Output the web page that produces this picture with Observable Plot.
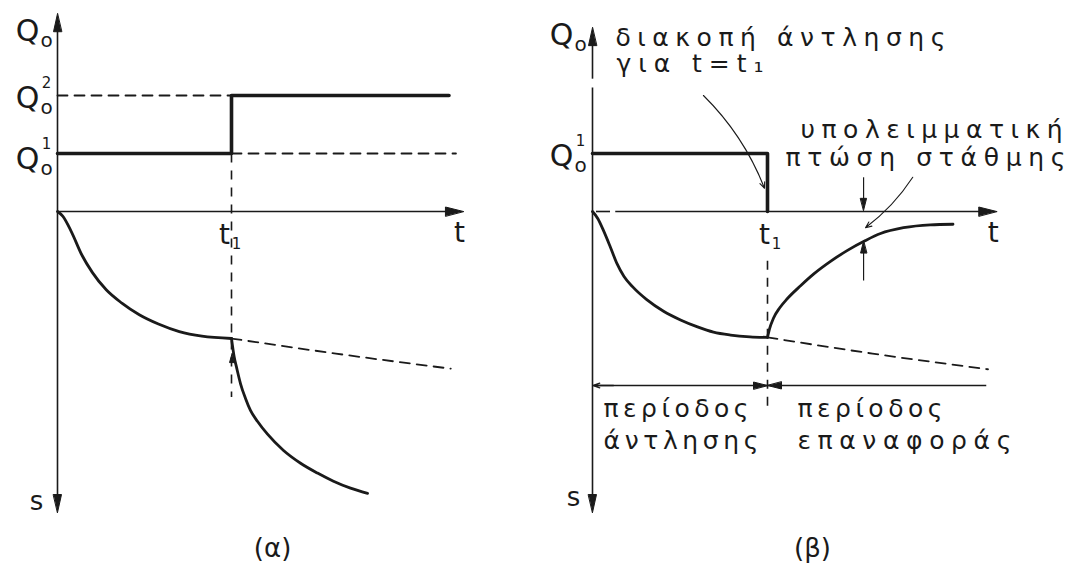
<!DOCTYPE html>
<html>
<head>
<meta charset="utf-8">
<script src="https://cdn.jsdelivr.net/npm/d3@7"></script>
<script src="https://cdn.jsdelivr.net/npm/@observablehq/plot@0.6"></script>
<style>
  html, body { margin: 0; padding: 0; background: #fff; }
  #figure { position: relative; width: 1067px; height: 564px; overflow: hidden; }
  #figure svg { position: absolute; top: 0; }
</style>
</head>
<body>
<div id="figure"></div>
<script>
// Pumping test sketches. Time is in units of t1, the pumping rate in units of Q1,
// the drawdown s is plotted downward from the time axis in the same vertical units.
const t1 = 1;
const Q1 = 1, Q2 = 2;

// (α) pumping rate raised from Q1 to Q2 at t1
const qStepA_t = [0, 1, 1, 2.25];
const qStepA_q = [1, 1, 2, 2];
const pumpA_t = [0, 0.03, 0.08, 0.14, 0.2, 0.28, 0.37, 0.47, 0.58, 0.7, 0.83, 1.0];
const pumpA_s = [0, 0.08, 0.35, 0.75, 1.05, 1.35, 1.58, 1.78, 1.94, 2.07, 2.15, 2.19];
const extA_t = [1, 1.6, 2.26];
const extA_s = [2.19, 2.45, 2.71];
const stepA_t = [1.0, 1.005, 1.015, 1.03, 1.052, 1.08, 1.109, 1.15, 1.207, 1.299, 1.397, 1.494, 1.586, 1.684, 1.782];
const stepA_s = [2.19, 2.30, 2.50, 2.70, 2.97, 3.22, 3.43, 3.62, 3.84, 4.12, 4.34, 4.51, 4.65, 4.77, 4.86];

// (β) pumping stopped at t1, then recovery
const qStepB_t = [0, 1, 1];
const qStepB_q = [1, 1, 0];
const pumpB_t = [0, 0.03, 0.063, 0.103, 0.14, 0.18, 0.23, 0.31, 0.406, 0.503, 0.6, 0.691, 0.789, 0.9, 1.0];
const pumpB_s = [0, 0.12, 0.33, 0.62, 0.90, 1.12, 1.30, 1.52, 1.72, 1.87, 1.99, 2.08, 2.13, 2.16, 2.17];
const extB_t = [1, 1.6, 2.26];
const extB_s = [2.17, 2.45, 2.72];
const recB_t = [1.0, 1.012, 1.034, 1.07, 1.114, 1.189, 1.263, 1.36, 1.457, 1.56, 1.646, 1.777, 1.93, 2.06];
const recB_s = [2.17, 2.02, 1.84, 1.66, 1.50, 1.28, 1.08, 0.86, 0.67, 0.50, 0.38, 0.28, 0.23, 0.22];
const residualT = 1.549;   // time at which the residual drawdown is marked
const residualS = 0.51;    // residual drawdown on the recovery curve there

// texts
const panelNames = ["(α)", "(β)"];
const noteStop = ["διακοπή άντλησης", "για t=t₁"];
const noteResidual = ["υπολειμματική", "πτώση στάθμης"];
const periodPump = ["περίοδος", "άντλησης"];
const periodRecovery = ["περίοδος", "επαναφοράς"];

// drawn widths of the lettered notes (px)
const noteWidths = new Map([
  ["διακοπή άντλησης", 330], ["για t=t₁", 147],
  ["υπολειμματική", 262], ["πτώση στάθμης", 280],
  ["περίοδος", 145], ["άντλησης", 155], ["επαναφοράς", 214]
]);

const zip = (T, V) => T.map((t, i) => ({t, v: V[i]}));
const down = (T, S) => T.map((t, i) => ({t, v: -S[i]}));

const INK = "#1a1a1a";
const FONT = "DejaVu Sans, sans-serif";
const DASH = "10,7";

// filled triangular arrowhead, tip at the anchor point
const solidHead = {
  draw(context, l, r) {
    context.moveTo(0, -l);
    context.lineTo(-r, 0);
    context.lineTo(r, 0);
    context.closePath();
  }
};
function head(x, y, rotate, length = 18, r = 4.5) {
  return Plot.vector([0], {
    x: [x], y: [y], rotate, length, r, anchor: "end", shape: solidHead,
    fill: INK, stroke: INK, strokeWidth: 1
  });
}
function seg(x1, y1, x2, y2, opts = {}) {
  return Plot.link([0], {x1: [x1], y1: [y1], x2: [x2], y2: [y2], stroke: INK, strokeWidth: 1.6, ...opts});
}
function bentArrow(x1, y1, x2, y2, bend) {
  return Plot.arrow([0], {x1: [x1], y1: [y1], x2: [x2], y2: [y2], bend, stroke: INK,
    strokeWidth: 1.1, headLength: 9, headAngle: 45});
}
function curveLine(T, S, opts = {}) {
  return Plot.line(down(T, S), {x: "t", y: "v", curve: "monotone-x", stroke: INK, strokeWidth: 2.8, ...opts});
}
function label(str, x, y, opts = {}) {
  return Plot.text([str], {x: [x], y: [y], text: d => d, fill: INK, fontFamily: FONT, ...opts});
}
function note(str, x, y) {
  return label(str, x, y, {fontSize: 25, textAnchor: "start", lineAnchor: "bottom"});
}
// Q with subscript o and optional superscript index
function qLabel(y, sup, dx, dyQ) {
  const marks = [
    label("Q", 0, y, {dx, dy: dyQ, fontSize: 30, textAnchor: "middle", lineAnchor: "middle"}),
    label("o", 0, y, {dx: dx + 19, dy: dyQ + 9, fontSize: 20, textAnchor: "middle", lineAnchor: "middle"})
  ];
  if (sup) marks.push(label(sup, 0, y, {dx: dx + 19, dy: dyQ - 15, fontSize: 15, textAnchor: "middle", lineAnchor: "middle"}));
  return marks;
}
function t1Label(dx) {
  return [
    label("t", t1, 0, {dx, dy: 24, fontSize: 28, textAnchor: "middle", lineAnchor: "middle"}),
    label("1", t1, 0, {dx: dx + 12, dy: 33, fontSize: 15, textAnchor: "middle", lineAnchor: "middle"})
  ];
}

const common = {
  height: 564,
  marginTop: 8,
  marginBottom: 34,
  y: {domain: [-5.5, 3.5], axis: null},
  style: {fontFamily: FONT, background: "transparent", overflow: "visible"}
};

// ---------- (α)
const plotA = Plot.plot({
  ...common,
  width: 530,
  marginLeft: 57,
  marginRight: 38,
  x: {domain: [0, 2.5], axis: null},
  marks: [
    // axes
    seg(0, -5.05, 0, 3.3),
    head(0, 3.41, 0, 18, 4),
    head(0, -5.19, 180, 18, 4),
    seg(0, 0, 2.25, 0),
    head(2.333, 0, 90, 18, 4.5),
    // reference levels and t1
    Plot.line(zip([0, t1], [Q2, Q2]), {x: "t", y: "v", stroke: INK, strokeWidth: 1.8, strokeDasharray: DASH}),
    Plot.line(zip([t1, 2.29], [Q1, Q1]), {x: "t", y: "v", stroke: INK, strokeWidth: 1.8, strokeDasharray: DASH}),
    seg(t1, Q1, t1, -3.2, {strokeWidth: 1.6, strokeDasharray: "9,8"}),
    // pumping rate
    Plot.line(zip(qStepA_t, qStepA_q), {x: "t", y: "v", stroke: INK, strokeWidth: 3.6}),
    // drawdown
    curveLine(pumpA_t, pumpA_s),
    curveLine(extA_t, extA_s, {strokeWidth: 1.8, strokeDasharray: DASH}),
    curveLine(stepA_t, stepA_s),
    head(1.003, -2.45, 0, 9, 2.5),
    // labels
    ...qLabel(3.1, null, -30, 0),
    ...qLabel(Q2, "2", -30, 3),
    ...qLabel(Q1, "1", -30, 6),
    ...t1Label(-7),
    label("t", 2.31, 0, {dy: 22, fontSize: 28, textAnchor: "middle", lineAnchor: "middle"}),
    label("s", 0, -5.0, {dx: -21, fontSize: 26, textAnchor: "middle", lineAnchor: "middle"}),
    label(panelNames[0], 1.236, -5.81, {fontSize: 26, textAnchor: "middle", lineAnchor: "middle"})
  ]
});

// ---------- (β)
const plotB = Plot.plot({
  ...common,
  width: 537,
  marginLeft: 62,
  marginRight: 37.5,
  x: {domain: [0, 2.5], axis: null},
  marks: [
    // axes (the vertical axis is broken beside the note)
    seg(0, -5.05, 0, 2.14),
    seg(0, 2.29, 0, 3.05),
    head(0, 3.17, 0, 18, 4),
    head(0, -5.19, 180, 18, 4),
    seg(0.02, 0, 0.1, 0),
    seg(0.13, 0, 2.22, 0),
    head(2.31, 0, 90, 18, 4.5),
    // pumping rate, stopped at t1
    Plot.line(zip(qStepB_t, qStepB_q), {x: "t", y: "v", stroke: INK, strokeWidth: 3.6}),
    // t1 marker below the axis
    seg(t1, -0.85, t1, -3.38, {strokeWidth: 1.6, strokeDasharray: "9,8"}),
    // drawdown and recovery
    curveLine(pumpB_t, pumpB_s),
    curveLine(extB_t, extB_s, {strokeWidth: 1.8, strokeDasharray: DASH}),
    curveLine(recB_t, recB_s),
    // periods
    seg(0.005, -3.0, 2.25, -3.0, {strokeWidth: 1.4}),
    Plot.arrow([0], {x1: [0.12], y1: [-3.0], x2: [0.005], y2: [-3.0], stroke: INK, strokeWidth: 1.4, headLength: 10, headAngle: 40}),
    head(t1, -3.0, 90, 14, 3.5),
    head(t1, -3.0, 270, 14, 3.5),
    // annotations
    bentArrow(0.634, 2.0, 0.983, 0.40, 12),
    seg(residualT, 0.59, residualT, 0.15, {strokeWidth: 1.2}),
    head(residualT, 0.02, 180, 12, 3),
    seg(residualT, -1.19, residualT, -residualS - 0.15, {strokeWidth: 1.2}),
    head(residualT, -residualS, 0, 12, 3),
    bentArrow(1.83, 0.59, 1.56, -0.28, 10),
    // labels
    ...qLabel(3.03, null, -31, 0),
    ...qLabel(Q1, "1", -31, 3),
    ...t1Label(-3),
    label("t", 2.29, 0, {dy: 22, fontSize: 28, textAnchor: "middle", lineAnchor: "middle"}),
    label("s", 0, -4.93, {dx: -19, fontSize: 26, textAnchor: "middle", lineAnchor: "middle"}),
    note(noteStop[0], 0.131, 2.86),
    note(noteStop[1], 0.137, 2.40),
    note(noteResidual[0], 1.189, 1.26),
    note(noteResidual[1], 1.103, 0.78),
    note(periodPump[0], 0.063, -3.55),
    note(periodPump[1], 0.063, -4.09),
    note(periodRecovery[0], 1.171, -3.55),
    note(periodRecovery[1], 1.171, -4.09),
    label(panelNames[1], 1.257, -5.81, {fontSize: 26, textAnchor: "middle", lineAnchor: "middle"})
  ]
});
plotB.style.left = "530px";

const figure = document.getElementById("figure");
figure.append(plotA, plotB);

// spread the lettered notes to their drawn widths
for (const svg of [plotA, plotB]) {
  for (const text of svg.querySelectorAll("text")) {
    const w = noteWidths.get(text.textContent);
    if (w) {
      text.setAttribute("textLength", w);
      text.setAttribute("lengthAdjust", "spacing");
    }
  }
}
</script>
</body>
</html>
